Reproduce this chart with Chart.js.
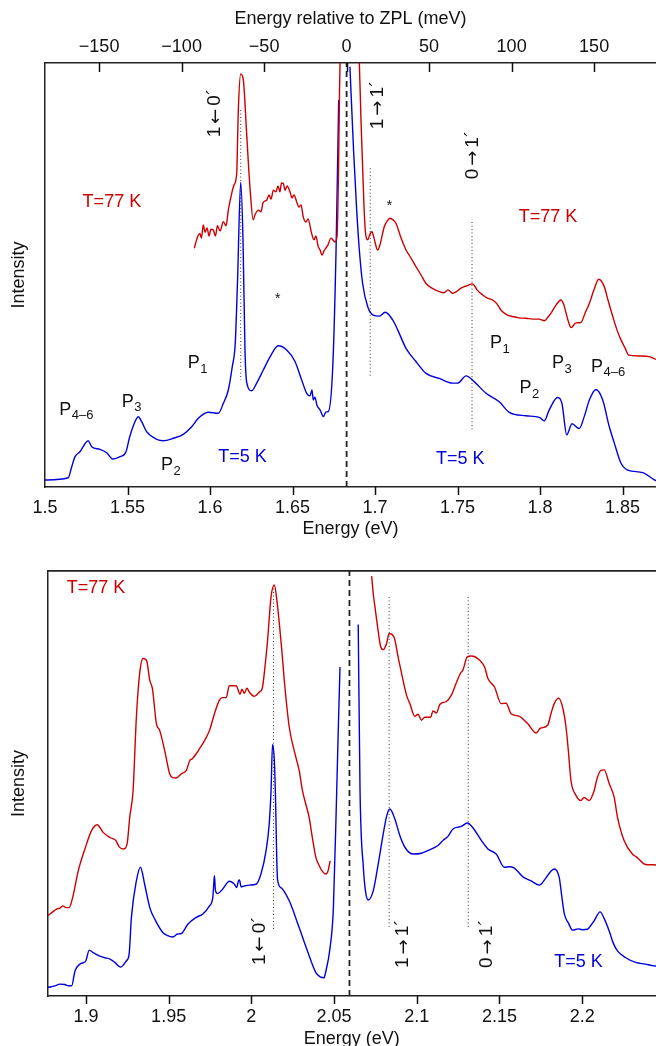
<!DOCTYPE html>
<html>
<head>
<meta charset="utf-8">
<script src="https://cdn.jsdelivr.net/npm/chart.js@4.4.1/dist/chart.umd.min.js"></script>
<style>
  html, body { margin: 0; padding: 0; background: #fff; }
  #wrap { position: relative; width: 656px; height: 1046px; overflow: hidden; }
  #topChart { position: absolute; left: 0; top: 0; }
  #botChart { position: absolute; left: 0; top: 540px; }
</style>
</head>
<body>
<div id="wrap">
  <canvas id="topChart" width="656" height="540"></canvas>
  <canvas id="botChart" width="656" height="506"></canvas>
</div>
<script>
/* Photoluminescence spectra, two energy windows, T=5 K and T=77 K */

var FONT = '"Liberation Sans", Arial, Helvetica, sans-serif';
var ARROW_FONT = '"DejaVu Sans", sans-serif';
var RED = '#cc0000';
var BLUE = '#0000dd';

// ---- upper panel: 1.5 - 1.87 eV ----
var topTicks = [1.5, 1.55, 1.6, 1.65, 1.7, 1.75, 1.8, 1.85];
var zplTicks = [-150, -100, -50, 0, 50, 100, 150];
var topZpl = 1.6828;

var topBlueE = [1.5000, 1.5141, 1.5162, 1.5182, 1.5212, 1.5262, 1.5283, 1.5333, 1.5374, 1.5410,
  1.5455, 1.5491, 1.5511, 1.5535, 1.5565, 1.5586, 1.5616, 1.5677, 1.5717, 1.5778,
  1.5838, 1.5889, 1.5929, 1.5990, 1.6050, 1.6081, 1.6111, 1.6135, 1.6153, 1.6167,
  1.6186, 1.6200, 1.6212, 1.6222, 1.6253, 1.6283, 1.6323, 1.6364, 1.6414, 1.6465,
  1.6515, 1.6556, 1.6586, 1.6606, 1.6618, 1.6626, 1.6636, 1.6648, 1.6667, 1.6687,
  1.6703, 1.6717, 1.6744, 1.6764, 1.6780, 1.6829, 1.6848, 1.6870, 1.6889, 1.6905,
  1.6925, 1.6956, 1.6986, 1.7026, 1.7062, 1.7107, 1.7138, 1.7188, 1.7248, 1.7309,
  1.7390, 1.7471, 1.7501, 1.7552, 1.7602, 1.7673, 1.7753, 1.7814, 1.7915, 1.7996,
  1.8026, 1.8056, 1.8107, 1.8133, 1.8162, 1.8194, 1.8238, 1.8268, 1.8299, 1.8339,
  1.8380, 1.8420, 1.8450, 1.8491, 1.8532, 1.8622, 1.8693, 1.8727];
var topBlueI = [1.65, 2.19, 4.79, 7.15, 8.33, 10.92, 9.50, 8.89, 8.09, 6.60,
  7.15, 8.33, 11.49, 14.39, 16.58, 15.40, 13.04, 11.25, 10.92, 11.49,
  12.43, 14.22, 16.20, 17.62, 17.38, 19.74, 22.88, 28.37, 33.89, 48.8,
  71.9, 58.3, 32.3, 24.8, 22.7, 24.5, 27.6, 30.7, 33.3, 32.3,
  29.6, 25.2, 22.1, 21.5, 22.9, 20.5, 21.2, 19.3, 18.2, 16.6,
  17.7, 17.8, 28.4, 55.9, 91.3, null, 99.1, 79.5, 65.3, 55.9,
  48.0, 42.5, 40.6, 40.3, 41.2, 39.4, 37.0, 32.7, 29.6, 26.8,
  25.6, 24.5, 24.5, 26.2, 24.8, 22.1, 20.1, 17.6, 16.8, 16.4,
  15.6, 18.2, 21.1, 19.7, 12.3, 14.9, 13.8, 16.6, 20.5, 23.0,
  20.5, 14.2, 10.4, 5.6, 4.0, 3.4, 1.7, 1.2];

var topRedE = [1.5905, 1.5915, 1.5927, 1.5939, 1.5948, 1.5959, 1.5970, 1.5982, 1.5994, 1.6006,
  1.6020, 1.6033, 1.6045, 1.6061, 1.6081, 1.6097, 1.6111, 1.6132, 1.6145, 1.6162,
  1.6167, 1.6172, 1.6186, 1.6202, 1.6222, 1.6242, 1.6262, 1.6273, 1.6293, 1.6309,
  1.6321, 1.6344, 1.6358, 1.6370, 1.6384, 1.6400, 1.6412, 1.6424, 1.6433, 1.6444,
  1.6455, 1.6467, 1.6485, 1.6497, 1.6509, 1.6525, 1.6539, 1.6552, 1.6565, 1.6582,
  1.6594, 1.6616, 1.6630, 1.6642, 1.6655, 1.6667, 1.6679, 1.6691, 1.6703, 1.6715,
  1.6733, 1.6758, 1.6770, 1.6779, 1.6785, 1.6791, 1.6800, 1.6885, 1.6897, 1.6905,
  1.6915, 1.6925, 1.6933, 1.6941, 1.6956, 1.6970, 1.6982, 1.6994, 1.7016, 1.7030,
  1.7056, 1.7073, 1.7091, 1.7109, 1.7127, 1.7158, 1.7188, 1.7218, 1.7248, 1.7279,
  1.7309, 1.7345, 1.7390, 1.7418, 1.7442, 1.7471, 1.7491, 1.7521, 1.7552, 1.7592,
  1.7618, 1.7653, 1.7679, 1.7713, 1.7739, 1.7764, 1.7800, 1.7835, 1.7873, 1.7915,
  1.7958, 1.7994, 1.8026, 1.8045, 1.8067, 1.8097, 1.8127, 1.8145, 1.8158, 1.8173,
  1.8188, 1.8218, 1.8248, 1.8273, 1.8299, 1.8327, 1.8356, 1.8390, 1.8412, 1.8441,
  1.8467, 1.8491, 1.8515, 1.8538, 1.8606, 1.8667, 1.8703, 1.8727];
var topRedI = [56.3, 57.8, 59.2, 59.8, 58.7, 61.8, 60.1, 61.1, 59.2, 60.8,
  60.6, 59.2, 61.6, 60.4, 62.6, 61.6, 65.3, 69.3, 71.2, 74.0,
  81.8, 89.3, 97.4, 96.0, 83.4, 70.8, 63.0, 64.2, 65.3, 64.9,
  67.0, 67.7, 68.9, 67.9, 70.0, 69.6, 71.0, 69.6, 71.7, 71.6,
  70.0, 71.0, 69.6, 68.2, 68.9, 67.3, 66.0, 66.5, 63.7, 62.5,
  63.2, 59.8, 58.3, 59.2, 56.8, 55.9, 54.7, 55.7, 56.4, 57.1,
  58.7, 57.8, 59.2, 74.8, 93.6, 105.4, 114.9, 114.9, 105.4, 100.0,
  86.6, 75.5, 66.5, 60.6, 58.3, 59.7, 60.2, 58.7, 55.9, 57.1,
  61.4, 62.7, 63.4, 63.0, 62.2, 58.7, 55.9, 54.0, 52.0, 50.0,
  48.0, 46.9, 46.1, 45.8, 46.5, 45.7, 46.0, 46.9, 47.4, 47.9,
  46.5, 45.3, 44.6, 44.1, 43.2, 41.7, 40.6, 40.2, 39.9, 39.8,
  39.6, 39.6, 39.2, 39.9, 41.0, 42.9, 44.1, 42.9, 41.0, 38.9,
  37.6, 38.7, 38.8, 41.0, 43.3, 46.5, 49.0, 47.2, 44.1, 40.2,
  37.0, 34.7, 32.8, 31.1, 30.9, 30.7, 30.1, 30.0];

var topMarkE = [1.6186, 1.6971, 1.7588];
var topMarkHi = [88.9, 75.2, 62.5];
var topMarkLo = [25.2, 25.7, 13.0];

// ---- lower panel: 1.88 - 2.24 eV ----
var botTicks = [1.9, 1.95, 2.0, 2.05, 2.1, 2.15, 2.2];
var botZpl = 2.0593;

var botRedE = [1.8769, 1.8803, 1.8825, 1.8843, 1.8861, 1.8880, 1.8899, 1.8920, 1.8954, 1.8994,
  1.9034, 1.9068, 1.9104, 1.9145, 1.9181, 1.9201, 1.9229, 1.9249, 1.9265, 1.9285,
  1.9305, 1.9325, 1.9345, 1.9366, 1.9386, 1.9402, 1.9426, 1.9446, 1.9476, 1.9506,
  1.9524, 1.9546, 1.9577, 1.9607, 1.9627, 1.9645, 1.9667, 1.9687, 1.9717, 1.9747,
  1.9777, 1.9807, 1.9825, 1.9848, 1.9867, 1.9908, 1.9932, 1.9943, 1.9958, 1.9973,
  1.9988, 2.0018, 2.0048, 2.0066, 2.0078, 2.0098, 2.0119, 2.0139, 2.0154, 2.0169,
  2.0184, 2.0199, 2.0229, 2.0269, 2.0289, 2.0309, 2.0328, 2.0349, 2.0367, 2.0390,
  2.0410, 2.0426, 2.0450, 2.0464, 2.0476, 2.0600, 2.0727, 2.0738, 2.0747, 2.0763,
  2.0781, 2.0797, 2.0817, 2.0833, 2.0863, 2.0887, 2.0908, 2.0938, 2.0958, 2.0988,
  2.1008, 2.1028, 2.1048, 2.1084, 2.1098, 2.1119, 2.1139, 2.1179, 2.1209, 2.1239,
  2.1265, 2.1279, 2.1305, 2.1330, 2.1380, 2.1410, 2.1430, 2.1470, 2.1510, 2.1540,
  2.1570, 2.1620, 2.1670, 2.1721, 2.1747, 2.1791, 2.1813, 2.1831, 2.1857, 2.1881,
  2.1902, 2.1916, 2.1932, 2.1962, 2.1992, 2.2012, 2.2042, 2.2072, 2.2090, 2.2113,
  2.2133, 2.2163, 2.2193, 2.2213, 2.2253, 2.2303, 2.2325, 2.2343, 2.2373, 2.2398,
  2.2434, 2.2458];
var botRedI = [18.9, 19.9, 20.5, 20.7, 21.2, 20.8, 20.8, 23.2, 29.5, 34.6,
  38.9, 40.3, 38.5, 37.3, 36.6, 35.1, 34.6, 35.8, 42.1, 48.3,
  65.6, 75.9, 79.4, 79.0, 74.3, 72.3, 64.1, 62.5, 57.8, 52.3,
  51.4, 51.3, 52.3, 53.1, 55.3, 55.9, 57.0, 58.2, 60.1, 62.5,
  66.4, 69.6, 70.2, 70.2, 73.0, 73.0, 71.0, 72.2, 71.2, 72.4,
  71.5, 70.5, 71.5, 72.4, 75.9, 83.7, 93.9, 96.7, 93.2, 87.7,
  81.4, 74.3, 63.3, 56.2, 53.1, 48.3, 45.3, 42.1, 37.7, 32.6,
  30.7, 29.5, 28.7, 29.5, 31.8, null, 98.8, 94.3, 91.6, 86.9,
  82.3, 81.5, 82.9, 85.3, 84.4, 79.8, 75.9, 70.8, 68.8, 65.8,
  66.3, 64.9, 65.6, 65.6, 67.1, 66.6, 68.6, 69.3, 70.8, 73.7,
  76.0, 76.7, 79.8, 80.0, 79.0, 77.4, 74.7, 72.7, 68.8, 68.9,
  66.4, 65.8, 64.1, 61.9, 63.0, 63.7, 66.7, 68.8, 70.1, 68.0,
  63.3, 57.8, 50.7, 47.2, 46.0, 46.7, 46.0, 48.3, 51.2, 53.1,
  53.2, 50.0, 46.8, 42.1, 36.6, 33.4, 32.8, 32.2, 31.1, 30.9,
  30.9, 30.7];

var botBlueE = [1.8769, 1.8813, 1.8843, 1.8873, 1.8893, 1.8914, 1.8934, 1.8964, 1.8982, 1.9000,
  1.9020, 1.9044, 1.9084, 1.9114, 1.9145, 1.9175, 1.9209, 1.9245, 1.9261, 1.9275,
  1.9305, 1.9330, 1.9355, 1.9386, 1.9416, 1.9466, 1.9494, 1.9526, 1.9554, 1.9577,
  1.9616, 1.9667, 1.9707, 1.9747, 1.9767, 1.9774, 1.9777, 1.9783, 1.9797, 1.9827,
  1.9867, 1.9898, 1.9911, 1.9922, 1.9928, 1.9938, 1.9958, 1.9988, 2.0028, 2.0058,
  2.0089, 2.0108, 2.0119, 2.0128, 2.0139, 2.0145, 2.0158, 2.0179, 2.0229, 2.0289,
  2.0339, 2.0390, 2.0416, 2.0440, 2.0446, 2.0476, 2.0496, 2.0516, 2.0527, 2.0536,
  2.0593, 2.0646, 2.0657, 2.0677, 2.0691, 2.0707, 2.0737, 2.0767, 2.0797, 2.0819,
  2.0837, 2.0867, 2.0898, 2.0928, 2.0978, 2.1028, 2.1078, 2.1128, 2.1158, 2.1187,
  2.1219, 2.1269, 2.1305, 2.1339, 2.1390, 2.1430, 2.1480, 2.1530, 2.1560, 2.1590,
  2.1640, 2.1691, 2.1741, 2.1781, 2.1807, 2.1831, 2.1861, 2.1876, 2.1892, 2.1916,
  2.1942, 2.1976, 2.2000, 2.2032, 2.2054, 2.2072, 2.2108, 2.2133, 2.2163, 2.2187,
  2.2213, 2.2263, 2.2323, 2.2380, 2.2434, 2.2458];
var botBlueI = [2.0, 2.4, 2.8, 2.7, 2.4, 2.4, 5.9, 7.5, 7.8, 8.3,
  10.8, 10.2, 9.4, 9.0, 8.7, 7.9, 6.8, 8.3, 9.8, 18.5,
  27.1, 30.3, 26.3, 20.8, 18.1, 14.9, 14.2, 13.9, 14.6, 14.7,
  16.9, 18.5, 19.3, 21.2, 23.2, 27.1, 28.3, 24.8, 24.1, 25.2,
  27.0, 26.3, 25.5, 27.1, 27.3, 25.7, 25.9, 26.1, 26.3, 28.7,
  34.2, 40.5, 48.3, 59.2, 55.4, 48.3, 27.5, 25.5, 22.4, 16.1,
  10.6, 5.5, 4.5, 4.3, 5.1, 11.4, 20.8, 48.3, 64.9, 77.4,
  null, 87.4, 48.3, 30.3, 24.4, 22.6, 24.8, 31.1, 38.1, 42.5,
  44.0, 41.7, 37.7, 35.0, 33.4, 33.6, 34.4, 35.4, 36.6, 37.5,
  39.3, 39.9, 40.7, 39.6, 36.6, 34.6, 33.4, 30.3, 30.4, 30.1,
  28.1, 27.1, 26.1, 27.8, 29.2, 29.9, 27.9, 23.6, 19.3, 17.2,
  15.5, 15.8, 15.6, 15.7, 16.7, 17.7, 19.8, 18.2, 15.3, 12.5,
  10.6, 9.0, 7.9, 7.5, 7.1, 7.0];

var botMarkE = [2.0134, 2.0833, 2.1311];
var botMarkHi = [96.7, 93.9, 93.9];
var botMarkLo = [15.3, 15.8, 15.8];

// ---- text annotations (data coordinates) ----
var topNotes = [
  { kind: 'text', t: 'T=77 K', x: 1.5228, y: 67.2, c: RED },
  { kind: 'text', t: 'T=77 K', x: 1.7871, y: 63.7, c: RED },
  { kind: 'text', t: 'T=5 K', x: 1.6050, y: 7.1, c: BLUE },
  { kind: 'text', t: 'T=5 K', x: 1.7370, y: 6.5, c: BLUE },
  { kind: 'sub', t: 'P', s: '4\u20136', x: 1.5087, y: 18.2 },
  { kind: 'sub', t: 'P', s: '3', x: 1.5465, y: 20.1 },
  { kind: 'sub', t: 'P', s: '2', x: 1.5703, y: 5.2 },
  { kind: 'sub', t: 'P', s: '1', x: 1.5865, y: 29.2 },
  { kind: 'sub', t: 'P', s: '1', x: 1.7697, y: 33.9 },
  { kind: 'sub', t: 'P', s: '2', x: 1.7875, y: 23.3 },
  { kind: 'sub', t: 'P', s: '3', x: 1.8073, y: 29.2 },
  { kind: 'sub', t: 'P', s: '4\u20136', x: 1.8309, y: 28.4 },
  { kind: 'star', t: '*', x: 1.7087, y: 67.0 },
  { kind: 'star', t: '*', x: 1.6410, y: 44.9 },
  { kind: 'rot', t: ['1', '\u2190', '0\u00B4'], x: 1.6030, y: 88.2 },
  { kind: 'rot', t: ['1', '\u2192', '1\u00B4'], x: 1.7016, y: 90.1 },
  { kind: 'rot', t: ['0', '\u2192', '1\u00B4'], x: 1.7592, y: 78.3 }
];
var botNotes = [
  { kind: 'text', t: 'T=77 K', x: 1.8884, y: 96.0, c: RED },
  { kind: 'text', t: 'T=5 K', x: 2.1831, y: 8.0, c: BLUE },
  { kind: 'rot', t: ['1', '\u2190', '0\u00B4'], x: 2.0048, y: 13.0 },
  { kind: 'rot', t: ['1', '\u2192', '1\u00B4'], x: 2.0917, y: 12.3 },
  { kind: 'rot', t: ['0', '\u2192', '1\u00B4'], x: 2.1426, y: 12.3 }
];

function series(es, is) {
  return es.map(function (e, i) { return { x: e, y: is[i] }; });
}

function curve(data, color) {
  return {
    data: data, borderColor: color, borderWidth: 1.4, pointRadius: 0,
    cubicInterpolationMode: 'monotone', spanGaps: false, fill: false
  };
}

function marks(es, hi, lo) {
  return es.map(function (e, i) {
    return {
      data: [{ x: e, y: hi[i] }, { x: e, y: lo[i] }],
      borderColor: '#333', borderWidth: 1, borderDash: [1, 2.5],
      pointRadius: 0, fill: false
    };
  });
}

function zplLine(e) {
  return {
    data: [{ x: e, y: 0 }, { x: e, y: 100 }],
    borderColor: '#222', borderWidth: 1.8, borderDash: [6, 4],
    pointRadius: 0, fill: false
  };
}

function fmtE(v) { return String(Number(v.toFixed(2))); }
function fmtMeV(v) { return v < 0 ? '\u2212' + Math.abs(v) : String(v); }

// rotated transition label: digit, arrow (wider DejaVu glyph), digit with prime
function drawRotated(ctx, parts, px, py) {
  var fonts = ['19px ' + FONT, '18px ' + ARROW_FONT, '19px ' + FONT];
  var gap = 3;
  var widths = parts.map(function (p, i) { ctx.font = fonts[i]; return ctx.measureText(p).width; });
  var total = widths[0] + widths[1] + widths[2] + 2 * gap;
  ctx.save();
  ctx.translate(px, py);
  ctx.rotate(-Math.PI / 2);
  ctx.textAlign = 'left';
  var cx = -total / 2;
  parts.forEach(function (p, i) {
    ctx.font = fonts[i];
    ctx.fillText(p, cx, i === 1 ? 1 : 0);
    cx += widths[i] + gap;
  });
  ctx.restore();
}

var notesPlugin = {
  id: 'notes',
  afterDatasetsDraw: function (chart, args, opts) {
    var ctx = chart.ctx;
    var xs = chart.scales.x, ys = chart.scales.y;
    ctx.save();
    (opts.items || []).forEach(function (n) {
      var px = xs.getPixelForValue(n.x);
      var py = ys.getPixelForValue(n.y);
      ctx.fillStyle = n.c || '#111';
      ctx.textBaseline = 'middle';
      if (n.kind === 'rot') {
        drawRotated(ctx, n.t, px, py);
      } else if (n.kind === 'sub') {
        ctx.font = '18px ' + FONT;
        ctx.textAlign = 'left';
        ctx.fillText(n.t, px, py);
        var w = ctx.measureText(n.t).width;
        ctx.font = '13px ' + FONT;
        ctx.fillText(n.s, px + w + 0.5, py + 6);
      } else if (n.kind === 'star') {
        ctx.font = '14px ' + FONT;
        ctx.textAlign = 'center';
        ctx.fillText(n.t, px, py + 3);
      } else {
        ctx.font = '18px ' + FONT;
        ctx.textAlign = 'left';
        ctx.fillText(n.t, px, py);
      }
    });
    ctx.restore();
  }
};

// tick marks: outward on the bottom axis, inward on the top (meV) axis
var tickMarks = {
  id: 'tickMarks',
  afterDraw: function (chart, args, opts) {
    var ctx = chart.ctx;
    var area = chart.chartArea;
    ctx.save();
    ctx.strokeStyle = '#111';
    ctx.lineWidth = 1.5;
    (opts.axes || []).forEach(function (a) {
      var sc = chart.scales[a.id];
      sc.ticks.forEach(function (t) {
        var px = Math.round(sc.getPixelForValue(t.value)) + 0.5;
        if (px < area.left + 1 || px > area.right) return;
        var y0 = a.id === 'x' ? area.bottom : area.top;
        ctx.beginPath();
        ctx.moveTo(px, y0);
        ctx.lineTo(px, y0 + a.len);
        ctx.stroke();
      });
    });
    ctx.restore();
  }
};

function energyAxis(min, max, ticks, height, titleLine) {
  return {
    type: 'linear', position: 'bottom', min: min, max: max,
    afterBuildTicks: function (s) { s.ticks = ticks.map(function (v) { return { value: v }; }); },
    afterFit: function (s) { s.height = height; },
    ticks: {
      autoSkip: false, maxRotation: 0, padding: 10, color: '#111',
      font: { family: FONT, size: 18 }, callback: fmtE
    },
    grid: { drawOnChartArea: false, drawTicks: false },
    border: { display: true, color: '#222', width: 1.5 },
    title: {
      display: true, text: 'Energy (eV)', color: '#111',
      font: { family: FONT, size: 18, lineHeight: titleLine }, padding: { top: 1, bottom: 0 }
    }
  };
}

function intensityAxis(width) {
  return {
    min: 0, max: 100,
    afterFit: function (s) { s.width = width; },
    ticks: { display: false },
    grid: { display: false },
    border: { display: true, color: '#222', width: 1.5 },
    title: {
      display: true, text: 'Intensity', color: '#111',
      font: { family: FONT, size: 18 }, padding: { top: 8, bottom: 2 }
    }
  };
}

function baseOptions(scales, notes, axes) {
  return {
    responsive: false, animation: false,
    layout: { padding: 0 },
    plugins: {
      legend: { display: false }, tooltip: { enabled: false },
      notes: { items: notes }, tickMarks: { axes: axes }
    },
    scales: scales
  };
}

// upper panel
new Chart(document.getElementById('topChart'), {
  type: 'line',
  data: {
    datasets: [
      curve(series(topRedE, topRedI), RED),
      curve(series(topBlueE, topBlueI), BLUE),
      zplLine(topZpl)
    ].concat(marks(topMarkE, topMarkHi, topMarkLo))
  },
  options: baseOptions({
    x: energyAxis(1.5, 1.8703, topTicks, 53, 1.2),
    x2: {
      type: 'linear', position: 'top',
      min: (1.5 - topZpl) * 1000, max: (1.8703 - topZpl) * 1000,
      afterBuildTicks: function (s) { s.ticks = zplTicks.map(function (v) { return { value: v }; }); },
      afterFit: function (s) { s.height = 63; },
      ticks: {
        autoSkip: false, maxRotation: 0, padding: 5, color: '#111',
        font: { family: FONT, size: 18 }, callback: fmtMeV
      },
      grid: { drawOnChartArea: false, drawTicks: false },
      border: { display: true, color: '#222', width: 1.5 },
      title: {
        display: true, text: 'Energy relative to ZPL (meV)', color: '#111',
        font: { family: FONT, size: 18 }, padding: { top: 8, bottom: 2 }
      }
    },
    y: intensityAxis(45)
  }, topNotes, [{ id: 'x', len: 8 }, { id: 'x2', len: 9 }]),
  plugins: [notesPlugin, tickMarks]
});

// lower panel
new Chart(document.getElementById('botChart'), {
  type: 'line',
  data: {
    datasets: [
      curve(series(botRedE, botRedI), RED),
      curve(series(botBlueE, botBlueI), BLUE),
      zplLine(botZpl)
    ].concat(marks(botMarkE, botMarkHi, botMarkLo))
  },
  options: baseOptions({
    x: energyAxis(1.8769, 2.2446, botTicks, 50, 0.8),
    x2: {
      type: 'linear', position: 'top', min: 0, max: 1,
      afterFit: function (s) { s.height = 31; },
      ticks: { display: false },
      grid: { display: false },
      border: { display: true, color: '#222', width: 1.8 }
    },
    y: intensityAxis(47.7)
  }, botNotes, [{ id: 'x', len: 8 }]),
  plugins: [notesPlugin, tickMarks]
});
</script>
</body>
</html>
